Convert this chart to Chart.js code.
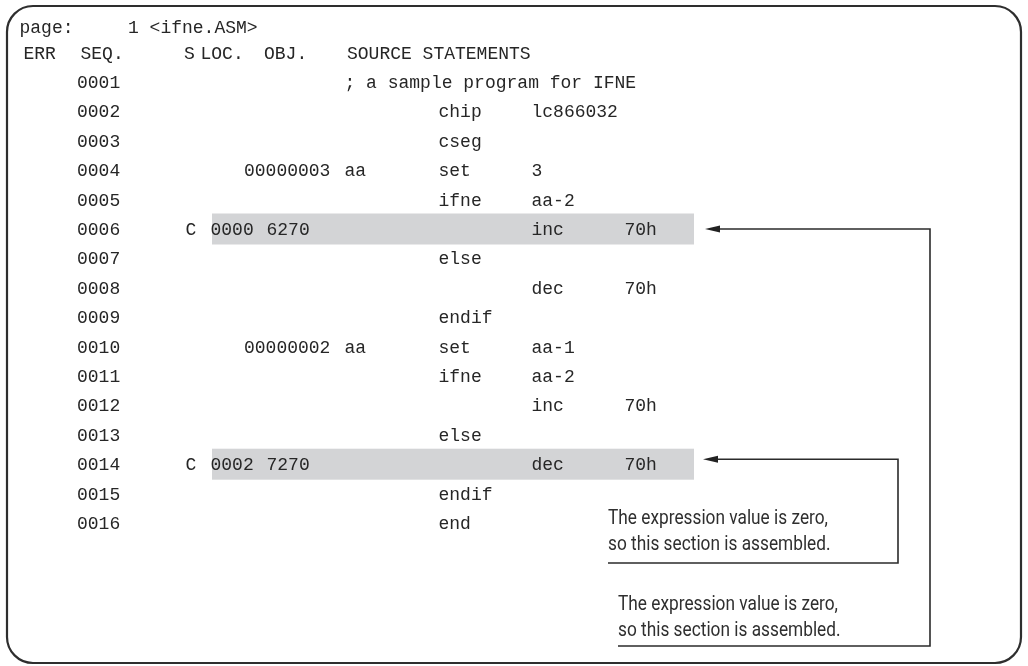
<!DOCTYPE html>
<html>
<head>
<meta charset="utf-8">
<script src="https://cdn.jsdelivr.net/npm/chart.js@4/dist/chart.umd.min.js"></script>
<style>
  html, body { margin: 0; padding: 0; background: #fff; }
  #wrap { width: 1028px; height: 666px; }
</style>
</head>
<body>
<div id="wrap"><canvas id="listing" width="1028" height="666"></canvas></div>
<script>
// Listing content, one entry per source line (0001..0016)
const pageLine = ['page:', '1 <ifne.ASM>'];
const headers = ['ERR', 'SEQ.', 'S', 'LOC.', 'OBJ.', 'SOURCE STATEMENTS'];
const seqNumbers = ['0001', '0002', '0003', '0004', '0005', '0006', '0007', '0008',
                    '0009', '0010', '0011', '0012', '0013', '0014', '0015', '0016'];
const condFlags  = ['', '', '', '', '', 'C', '', '', '', '', '', '', '', 'C', '', ''];
const locAddrs   = ['', '', '', '', '', '0000', '', '', '', '', '', '', '', '0002', '', ''];
const objCodes   = ['', '', '', '', '', '6270', '', '', '', '', '', '', '', '7270', '', ''];
const symValues  = ['', '', '', '00000003', '', '', '', '', '', '00000002', '', '', '', '', '', ''];
const labels     = ['; a sample program for IFNE', '', '', 'aa', '', '', '', '', '', 'aa', '', '', '', '', '', ''];
const mnemonics  = ['', 'chip', 'cseg', 'set', 'ifne', '', 'else', '', 'endif', 'set', 'ifne', '', 'else', '', 'endif', 'end'];
const operands   = ['', 'lc866032', '', '3', 'aa-2', 'inc', '', 'dec', '', 'aa-1', 'aa-2', 'inc', '', 'dec', '', ''];
const operands2  = ['', '', '', '', '', '70h', '', '70h', '', '', '', '70h', '', '70h', '', ''];
const noteLines  = ['The expression value is zero,', 'so this section is assembled.'];
const noteTargets = ['0014', '0006'];

// layout (pixels)
const rowTop = 52.6, rowStep = 29.4;
const cols = { seq: 77, flag: 185.5, loc: 210.5, obj: 266.5, sym: 244, src1: 344.5, src2: 438.5, src3: 531.5, src4: 624.5 };
const headCols = [23.5, 80.5, 184, 200.5, 264, 347];
const pageCols = [19.5, 128];
const hlRight = 694;
const notes = [
  { x: 608, base: 523.5, rail: 898, bottom: 563, tip: 703, dy: -5 },
  { x: 618, base: 609.5, rail: 930, bottom: 646, tip: 705, dy: 0 }
];
const monoFont = '18px "Liberation Mono", "Courier New", monospace';
const inkColor = '#262626';

const rowOf = seq => seqNumbers.indexOf(seq) + 1;

const listingPlugin = {
  id: 'listing',
  beforeDraw(chart) {
    const ctx = chart.ctx;
    ctx.save();
    ctx.fillStyle = '#ffffff';
    ctx.fillRect(0, 0, chart.width, chart.height);
    ctx.restore();
  },
  beforeDatasetsDraw(chart) {
    const { ctx, scales: { x, y } } = chart;
    ctx.save();
    ctx.fillStyle = '#d3d4d6';
    condFlags.forEach((f, i) => {
      if (f !== 'C') return;
      const cy = y.getPixelForValue(i + 1);
      const left = x.getPixelForValue(cols.loc) + 1.5;
      ctx.fillRect(left, cy - 15.5, x.getPixelForValue(hlRight) - left, 31);
    });
    ctx.restore();
  },
  afterDraw(chart) {
    const { ctx, scales: { x, y } } = chart;
    ctx.save();

    // rounded frame
    ctx.strokeStyle = '#2e2e2e';
    ctx.lineWidth = 2.2;
    ctx.beginPath();
    ctx.roundRect(7, 6, 1014, 657, 26);
    ctx.stroke();

    ctx.fillStyle = inkColor;
    ctx.font = monoFont;
    ctx.textBaseline = 'alphabetic';
    const put = (txt, col, row, nudge) => {
      if (!txt) return;
      ctx.fillText(txt, x.getPixelForValue(col), y.getPixelForValue(row) + 6 + (nudge || 0));
    };

    pageLine.forEach((t, i) => put(t, pageCols[i], -1, 3.6));
    headers.forEach((t, i) => put(t, headCols[i], 0));

    seqNumbers.forEach((s, i) => {
      const r = i + 1;
      put(s, cols.seq, r);
      put(condFlags[i], cols.flag, r);
      put(locAddrs[i], cols.loc, r);
      put(objCodes[i], cols.obj, r);
      put(symValues[i], cols.sym, r);
      put(labels[i], cols.src1, r);
      put(mnemonics[i], cols.src2, r);
      put(operands[i], cols.src3, r);
      put(operands2[i], cols.src4, r);
    });

    // notes with arrows back to the assembled lines
    ctx.font = '21px Roboto, "Noto Sans", sans-serif';
    const sx = 220 / ctx.measureText(noteLines[0]).width;
    ctx.strokeStyle = '#2b2b2b';
    ctx.lineWidth = 1.6;
    noteTargets.forEach((seq, k) => {
      const n = notes[k];
      ctx.fillStyle = '#2f2f2f';
      noteLines.forEach((line, j) => {
        ctx.save();
        ctx.translate(n.x, n.base + j * 26.5);
        ctx.scale(sx, 1);
        ctx.fillText(line, 0, 0);
        ctx.restore();
      });
      const ay = y.getPixelForValue(rowOf(seq)) + n.dy;
      ctx.beginPath();
      ctx.moveTo(n.x, n.bottom);
      ctx.lineTo(n.rail, n.bottom);
      ctx.lineTo(n.rail, ay);
      ctx.lineTo(n.tip + 12, ay);
      ctx.stroke();
      ctx.fillStyle = '#222';
      ctx.beginPath();
      ctx.moveTo(n.tip, ay);
      ctx.lineTo(n.tip + 15, ay - 3.5);
      ctx.lineTo(n.tip + 15, ay + 3.5);
      ctx.closePath();
      ctx.fill();
    });

    ctx.restore();
  }
};

new Chart(document.getElementById('listing'), {
  type: 'scatter',
  data: {
    datasets: [{
      data: seqNumbers.map((s, i) => ({ x: cols.seq, y: i + 1 })),
      pointRadius: 0,
      showLine: false
    }]
  },
  options: {
    responsive: false,
    animation: false,
    events: [],
    layout: { padding: 0 },
    plugins: { legend: { display: false }, tooltip: { enabled: false } },
    scales: {
      x: { type: 'linear', min: 0, max: 1028, display: false },
      y: { type: 'linear', reverse: true, min: -rowTop / rowStep, max: (666 - rowTop) / rowStep, display: false }
    }
  },
  plugins: [listingPlugin]
});
</script>
</body>
</html>
